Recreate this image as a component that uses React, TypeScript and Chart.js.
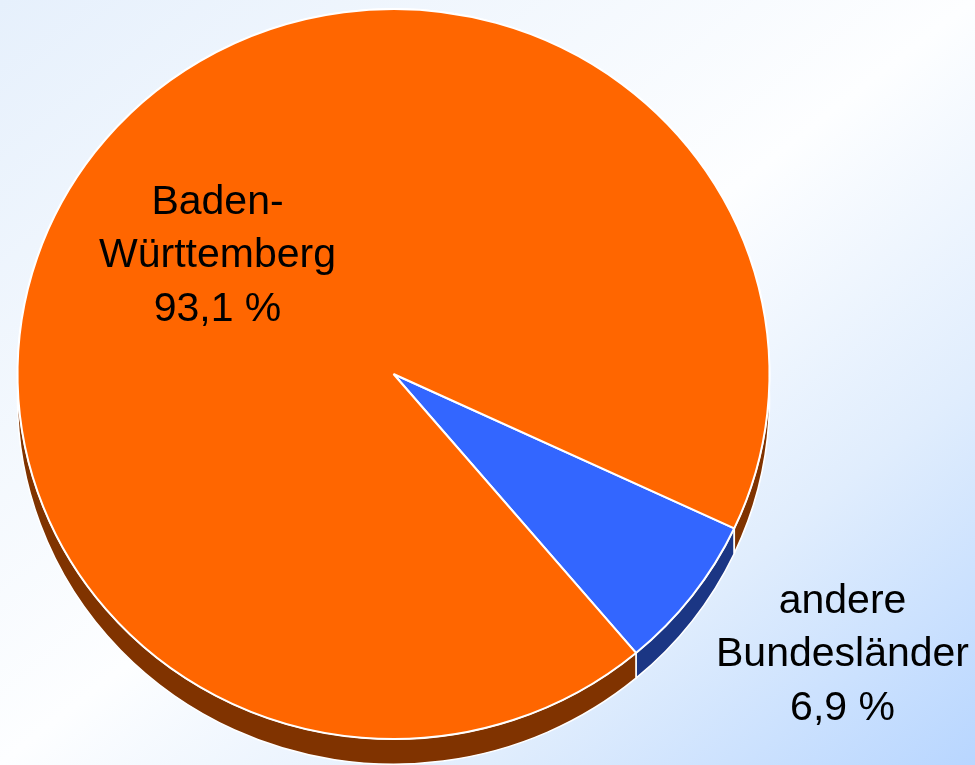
import React, { useEffect, useRef } from "react";
import { Chart, registerables } from "chart.js";

Chart.register(...registerables);

// ---- data ----
const categories = ["andere Bundesländer", "Baden-Württemberg"];
const shares = [6.9, 93.1];
const labelLines = [
  ["andere", "Bundesländer", "6,9 %"],
  ["Baden-", "Württemberg", "93,1 %"],
];

// ---- styles ----
const faceColors = ["#3366FF", "#FF6600"];
const sideColors = ["#1B3684", "#803300"];
const SQUISH = 365 / 376; // vertical ellipse ratio
const DEPTH = 26; // extrusion depth (unsquished px)
const FONT = '41px "Liberation Sans", Arial, sans-serif';
const LINE_H = 53.5;
// label middle-line anchor relative to pie centre (px)
const labelAnchors = [
  { dx: 449, dy: 292 },
  { dx: -176, dy: -107 },
];

const depthPlugin = {
  id: "depth3d",
  beforeDatasetsDraw(chart: any) {
    const meta = chart.getDatasetMeta(0);
    const arcs = meta.data;
    if (!arcs.length) return;
    const ctx = chart.ctx;
    const { x, y } = arcs[0];
    ctx.save();
    ctx.translate(x, y);
    ctx.scale(1, SQUISH);
    ctx.translate(-x, -y);
    arcs.forEach((arc: any, i: number) => {
      const { startAngle, endAngle, outerRadius } = arc.getProps(
        ["startAngle", "endAngle", "outerRadius"],
        true
      );
      const r = outerRadius;
      ctx.beginPath();
      ctx.arc(x, y, r, startAngle, endAngle);
      ctx.lineTo(x + r * Math.cos(endAngle), y + DEPTH + r * Math.sin(endAngle));
      ctx.arc(x, y + DEPTH, r, endAngle, startAngle, true);
      ctx.closePath();
      ctx.fillStyle = sideColors[i];
      ctx.fill();
      ctx.strokeStyle = "#ffffff";
      ctx.lineWidth = 1.6;
      ctx.lineJoin = "round";
      ctx.stroke();
    });
  },
  afterDatasetsDraw(chart: any) {
    chart.ctx.restore();
  },
  afterDraw(chart: any) {
    const meta = chart.getDatasetMeta(0);
    const arcs = meta.data;
    if (!arcs.length) return;
    const ctx = chart.ctx;
    const { x, y } = arcs[0];
    ctx.save();
    ctx.font = FONT;
    ctx.fillStyle = "#000000";
    ctx.textAlign = "center";
    ctx.textBaseline = "alphabetic";
    labelLines.forEach((lines, i) => {
      const a = labelAnchors[i];
      lines.forEach((t, k) => {
        ctx.fillText(t, x + a.dx, y + a.dy + (k - 1) * LINE_H);
      });
    });
    ctx.restore();
  },
};

export default function App() {
  const ref = useRef<HTMLCanvasElement | null>(null);
  useEffect(() => {
    if (!ref.current) return;
    const chart = new Chart(ref.current, {
      type: "pie",
      data: {
        labels: categories,
        datasets: [
          {
            data: shares,
            backgroundColor: faceColors,
            borderColor: "#ffffff",
            borderWidth: 2,
            clip: false as any,
          } as any,
        ],
      },
      options: {
        responsive: false,
        animation: false,
        devicePixelRatio: 1,
        rotation: 115,
        radius: 376,
        layout: { padding: { left: 0, right: 188, top: 0, bottom: 17 } },
        plugins: {
          legend: { display: false },
          tooltip: { enabled: false },
        },
      } as any,
      plugins: [depthPlugin],
    });
    return () => chart.destroy();
  }, []);
  return (
    <div
      style={{
        position: "absolute",
        left: 0,
        top: 0,
        width: 975,
        height: 765,
        overflow: "hidden",
        background:
          "linear-gradient(to bottom right, #E6F0FC 0%, #FDFEFF 50%, #E0EDFD 75%, #B8D6FF 100%)",
      }}
    >
      <canvas ref={ref} width={975} height={765} style={{ display: "block" }} />
    </div>
  );
}
